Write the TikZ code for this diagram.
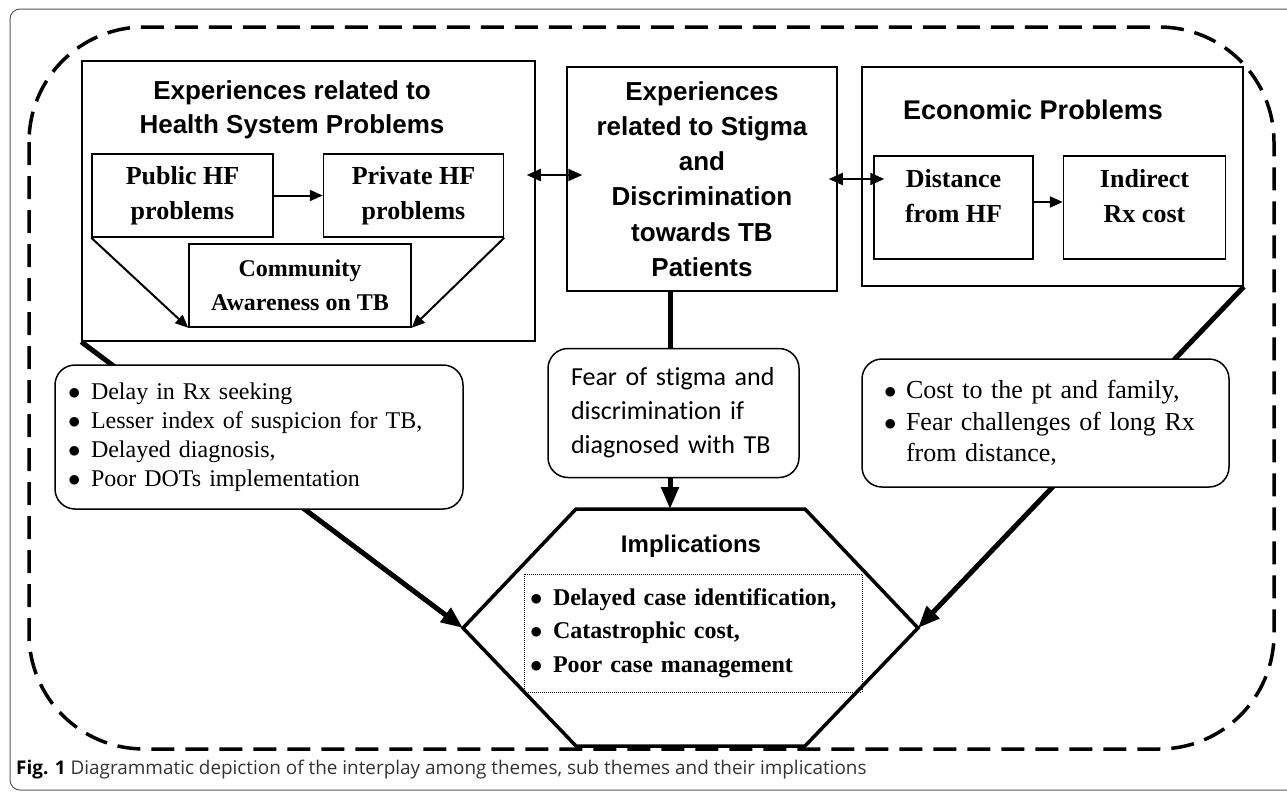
\documentclass[tikz,border=0pt]{standalone}
\usepackage{fontspec}
\setmainfont{Liberation Serif}
\setsansfont{Liberation Sans}
\newfontfamily\calfont[Ligatures=NoCommon]{Carlito}
\newfontfamily\capfont{Open Sans}
\usetikzlibrary{shapes,arrows.meta,positioning,calc}

\begin{document}
\begin{tikzpicture}[x=1pt, y=-1pt]
\tikzstyle{theme} = [rectangle, draw=black, line width=1.5pt, fill=white, inner sep=0pt]
\tikzstyle{head} = [align=center, font=\fontsize{26}{34}\selectfont\sffamily\bfseries]
\tikzstyle{sub} = [rectangle, draw=black, line width=1.5pt, fill=white, inner sep=0pt, align=center, font=\fontsize{26}{35}\selectfont\bfseries]
\tikzstyle{note} = [rectangle, rounded corners=20pt, draw=black, line width=1.5pt, fill=white, align=left, inner ysep=0pt]
\tikzstyle{arrow} = [line width=2pt, -{Triangle[length=13pt, width=11pt]}]
\tikzstyle{twoway} = [line width=2pt, {Triangle[length=14pt, width=12pt]}-{Triangle[length=14pt, width=12pt]}]
\tikzstyle{link} = [line width=5pt, -{Triangle[length=22pt, width=17pt]}]
\newcommand{\pt}{\makebox[17pt][l]{\hspace{-6pt}$\bullet$}}

\useasboundingbox (0,0) rectangle (1287,793);
\clip (0,0) rectangle (1287,793);

% frames
\draw [gray!70!black, line width=1pt, rounded corners=10pt] (10,9) rectangle (1310,790);
\draw [line width=3.5pt, dash pattern=on 23pt off 11pt, rounded corners=115pt] (29,27) rectangle (1274,749);

% themes
\node (hsbox) [theme, minimum width=453pt, minimum height=280pt] at (308.5,201) {};
\node (hstitle) [head] at (292,110) {Experiences related to\\Health System Problems};
\node (public) [sub, minimum width=181pt, minimum height=83pt] at (182.5,195.5) {Public HF\\problems};
\node (private) [sub, minimum width=180pt, minimum height=83pt, right=49pt of public] {Private HF\\problems};
\node (community) [sub, minimum width=222pt, minimum height=83pt, font=\fontsize{24}{34}\selectfont\bfseries] at (300,285.5) {Community\\Awareness on TB};

\node (stigma) [theme, head, minimum width=270pt, minimum height=224pt, font=\fontsize{26}{35.2}\selectfont\sffamily\bfseries] at (702,179) {Experiences\\related to Stigma\\and\\Discrimination\\towards TB\\Patients};

\node (econ) [theme, minimum width=381pt, minimum height=219pt] at (1052.5,176.5) {};
\node (econtitle) [head, font=\fontsize{27}{34}\selectfont\sffamily\bfseries] at (1033,110) {Economic Problems};
\node (distance) [sub, minimum width=159pt, minimum height=103pt] at (953.5,207.5) {Distance\\from HF\\[-23pt]\strut};
\node (indirect) [sub, minimum width=162pt, minimum height=103pt, right=29pt of distance] {Indirect\\Rx cost\\[-23pt]\strut};

\draw [arrow] (public) -- (private);
\draw [arrow] (public.south west) -- (community.south west);
\draw [arrow] (private.south east) -- (community.south east);
\draw [arrow] (distance.east |- 0,202) -- (indirect.west |- 0,202);
\draw [twoway, shorten <=-9pt, shorten >=-16pt] ($(stigma.west -| hsbox.east)+(0,-4)$) -- ($(stigma.west)+(0,-4)$);
\draw [twoway, shorten <=-9pt, shorten >=-11pt] (stigma.east) -- (stigma.east -| distance.west);

% implications hexagon
\coordinate (hexTL) at (576,509);
\coordinate (hexTop) at (670,509);
\coordinate (hexTR) at (805,509);
\coordinate (hexR) at (918,628);
\coordinate (hexBR) at (805,746);
\coordinate (hexBL) at (576,746);
\coordinate (hexL) at (463,628);

\draw [link] (hsbox.south west) -- (hexL);
\draw [link] (stigma.south -| hexTop) -- (hexTop);
\draw [link] (econ.south east) -- (hexR);
\draw [line width=3.5pt] (hexTL) -- (hexTR) -- (hexR) -- (hexBR) -- (hexBL) -- (hexL) -- cycle;

% notes
\node (leftnote) [note, inner xsep=19pt, text width=370pt, minimum height=144pt, font=\fontsize{24}{29}\selectfont] at (259,437)
  {\pt Delay in Rx seeking\\\pt Lesser index of suspicion for TB,\\\pt Delayed diagnosis,\\\pt Poor DOTs implementation};
\node (midnote) [note, inner xsep=23pt, text width=205pt, minimum height=129pt, font=\fontsize{26}{34}\selectfont\calfont] at (673.5,413)
  {Fear of stigma and\\discrimination if\\diagnosed with TB};
\node (rightnote) [note, inner xsep=28pt, text width=311pt, minimum height=128pt, font=\fontsize{26}{31.5}\selectfont] at (1045.5,423)
  {\makebox[16pt][l]{\hspace{-6pt}$\bullet$}Cost to the pt and family,\\\makebox[16pt][l]{\hspace{-6pt}$\bullet$}Fear challenges of long Rx\\\hspace*{16pt}from distance,};

\node (imptitle) [head, font=\fontsize{24}{30}\selectfont\sffamily\bfseries] at (691,546) {Implications};
\node (implist) [rectangle, draw=black, densely dotted, line width=1pt, inner xsep=12pt, text width=314pt, minimum height=118pt, align=left, font=\fontsize{24}{33.5}\selectfont\bfseries] at (693,633)
  {\pt Delayed case identification,\\\pt Catastrophic cost,\\\pt Poor case management};

% caption
\node (caption) [anchor=base west, inner sep=0pt, font=\fontsize{18.9}{22}\selectfont\capfont, text=black!80] at (16,774)
  {\textbf{\color{black}Fig. 1} Diagrammatic depiction of the interplay among themes, sub themes and their implications};

\end{tikzpicture}
\end{document}
